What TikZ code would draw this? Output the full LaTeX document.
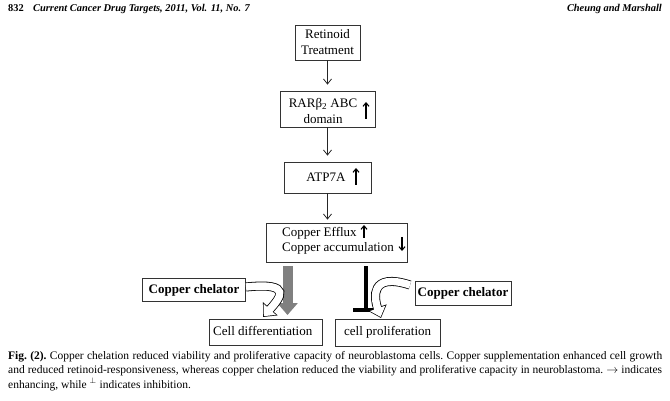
\documentclass[tikz,border=0pt]{standalone}
\usepackage{fontspec}
\setmainfont{Liberation Serif}
\usetikzlibrary{arrows.meta}
\begin{document}
\begin{tikzpicture}[x=1pt,y=-1pt,
  box/.style={draw=black!80, line width=0.8pt, inner sep=0pt, align=center,
              font=\fontsize{13}{16}\selectfont},
  txt/.style={inner sep=0pt, font=\fontsize{13}{16}\selectfont, align=center},
  flow/.style={draw=black!85, line width=0.8pt, -{Straight Barb[length=5pt,width=8pt]}},
  updown/.style={line width=1.1pt, -{Straight Barb[length=3.5pt,width=6pt]}},
  fatgray/.style={draw=black!50, line width=10pt, -{Triangle[length=12pt,width=20pt]}},
  hollowout/.style={line width=9pt, -{Triangle[length=11pt,width=19pt]}},
  hollowin/.style={white, line width=7.4pt, shorten >=1.1pt, -{Triangle[length=9.1pt,width=15.8pt]}},
  inhib/.style={line width=4pt},
  head/.style={inner sep=0pt, anchor=base, font=\fontsize{10.4}{12}\selectfont\bfseries},
]
\useasboundingbox (0,0) rectangle (670,401);
\fill[white] (0,0) rectangle (670,401);

% header
\node[head, anchor=base west] (pg) at (8,12) {832};
\node[head, anchor=base west, font=\fontsize{10.4}{12}\selectfont\bfseries\itshape] (jt) at (33,12) {Current Cancer Drug Targets, 2011, Vol. 11, No. 7};
\node[head, anchor=base east, font=\fontsize{10.4}{12}\selectfont\bfseries\itshape] (au) at (662,12) {Cheung and Marshall};

% main chain
\node[box, minimum width=65pt, minimum height=35pt] (b1) at (327.5,42.5) {Retinoid\\Treatment};

\node[box, minimum width=95pt, minimum height=36pt] (b2) at (327.5,109) {};
\node[txt] (t2) at (323,111) {RARβ\textsubscript{2} ABC\\domain};
\coordinate (u2a) at (366,119);
\coordinate (u2b) at (366,102);

\node[box, minimum width=87pt, minimum height=31pt] (b3) at (327.5,177.5) {};
\node[txt] (t3) at (326,177) {ATP7A};
\coordinate (u3a) at (356,185);
\coordinate (u3b) at (356,168);

\node[box, minimum width=141pt, minimum height=39pt] (b4) at (336.5,242.5) {};
\node[txt, anchor=west] (t4a) at (282,233) {Copper Efflux};
\node[txt, anchor=west] (t4b) at (282,248.5) {Copper accumulation};
\coordinate (u4a) at (364,238);
\coordinate (u4b) at (364,225);
\coordinate (d4a) at (402,237);
\coordinate (d4b) at (402,251);

\draw[flow, shorten >=6pt] (b1.south) -- (b1.south |- b2.north);
\draw[flow, shorten >=6pt] (b2.south) -- (b2.south |- b3.north);
\draw[flow, shorten >=3pt] (b3.south) -- (b3.south |- b4.north);

\draw[updown] (u2a) -- (u2b);
\draw[updown] (u3a) -- (u3b);
\draw[updown] (u4a) -- (u4b);
\draw[updown] (d4a) -- (d4b);

% bottom row
\node[box, minimum width=103pt, minimum height=23pt, font=\fontsize{13}{16}\selectfont\bfseries] (cl) at (194,290) {Copper chelator};
\node[box, minimum width=96pt, minimum height=24pt, font=\fontsize{13}{16}\selectfont\bfseries] (cr) at (463,293) {Copper chelator};

\node[box, minimum width=113pt, minimum height=26pt] (diff) at (265.5,332) {};
\node[txt, anchor=west] (tdiff) at (213,330.5) {Cell differentiation};
\node[box, minimum width=105pt, minimum height=27pt] (prol) at (387.5,332.5) {};
\node[txt, anchor=west] (tprol) at (344,332.5) {cell proliferation};

% enhancing gray arrow
\coordinate (ga) at (287.5,266);
\coordinate (gb) at (287.5,315);
\draw[fatgray] (ga) -- (gb);

% inhibition T-bar
\coordinate (ia) at (365.5,266);
\coordinate (ib) at (365.5,309.5);
\coordinate (il) at (353,309.5);
\coordinate (ir) at (376,309.5);
\draw[inhib] (ia) -- (ib);
\draw[inhib] (il) -- (ir);

% hollow curved arrows
\coordinate (lt) at (246,287);
\coordinate (ltip) at (263,317);
\draw[hollowout] (lt) .. controls (294,282) and (280,298) .. (ltip);
\draw[hollowin] (lt) .. controls (294,282) and (280,298) .. (ltip);

\coordinate (rt) at (410,285);
\coordinate (rtip) at (381,318);
\draw[hollowout] (rt) .. controls (370,272) and (374,298) .. (rtip);
\draw[hollowin] (rt) .. controls (370,272) and (374,298) .. (rtip);

% caption
\node[anchor=north west, inner sep=0pt, text width=654pt, align=justify,
      font=\fontsize{11.5}{14.5}\selectfont\frenchspacing] (cap) at (8,351)
{\textbf{Fig. (2).} Copper chelation reduced viability and proliferative capacity of neuroblastoma cells. Copper supplementation enhanced cell growth\linebreak
and reduced retinoid-responsiveness, whereas copper chelation reduced the viability and proliferative capacity in neuroblastoma. $\rightarrow$ indicates\linebreak
enhancing, while $^{\perp}$ indicates inhibition.};
\end{tikzpicture}
\end{document}
